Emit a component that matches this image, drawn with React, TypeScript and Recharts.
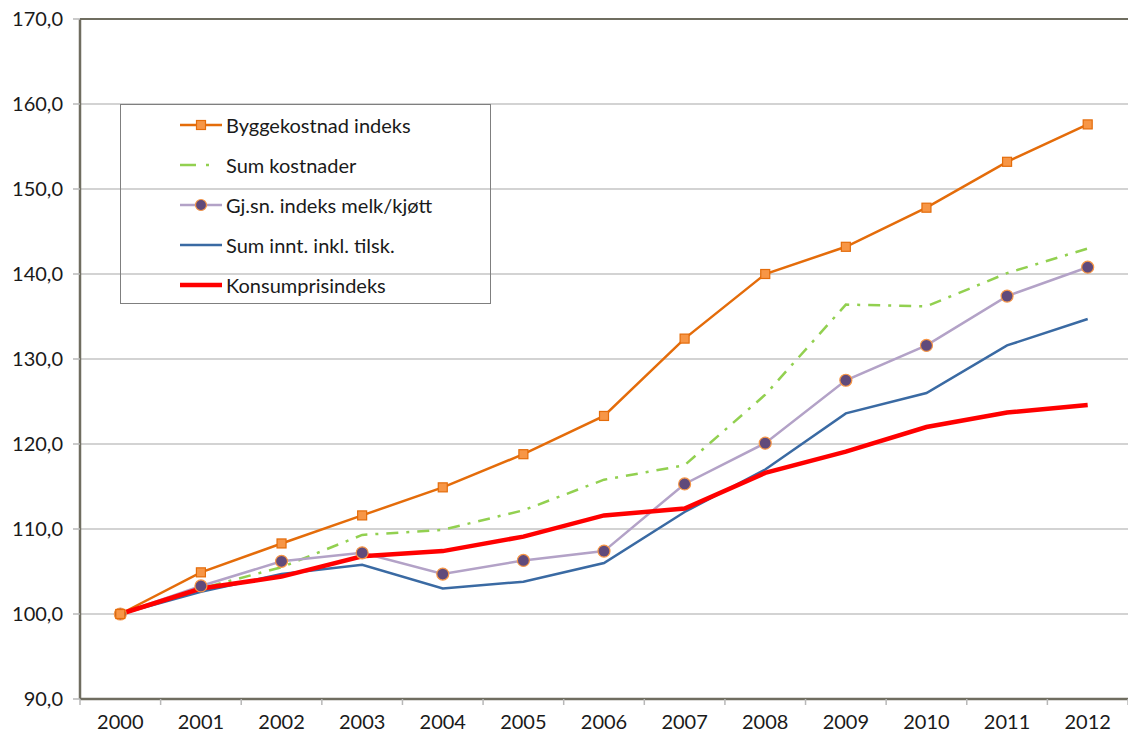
import React from 'react';
import { LineChart, Line, XAxis, YAxis, CartesianGrid, Legend, ReferenceLine } from 'recharts';

const years = ['2000', '2001', '2002', '2003', '2004', '2005', '2006', '2007', '2008', '2009', '2010', '2011', '2012'];
const byggekostnad = [100.0, 104.9, 108.3, 111.6, 114.9, 118.8, 123.3, 132.4, 140.0, 143.2, 147.8, 153.2, 157.6];
const sumKostnader = [100.0, 103.0, 105.5, 109.3, 109.9, 112.2, 115.8, 117.5, 125.8, 136.4, 136.2, 140.1, 143.0];
const gjsnIndeks = [100.0, 103.3, 106.2, 107.2, 104.7, 106.3, 107.4, 115.3, 120.1, 127.5, 131.6, 137.4, 140.8];
const sumInntekter = [100.0, 102.6, 104.7, 105.8, 103.0, 103.8, 106.0, 112.0, 117.0, 123.6, 126.0, 131.6, 134.7];
const konsumpris = [100.0, 103.0, 104.4, 106.8, 107.4, 109.1, 111.6, 112.4, 116.6, 119.1, 122.0, 123.7, 124.6];
const yTicks = [90, 100, 110, 120, 130, 140, 150, 160, 170];

const data = years.map((year, i) => ({
    idx: i,
    year,
    bygg: byggekostnad[i],
    kost: sumKostnader[i],
    gjsn: gjsnIndeks[i],
    innt: sumInntekter[i],
    kpi: konsumpris[i],
}));

// year labels sit on the categories, tick marks sit between them (Excel style)
const xTicks: number[] = [];
years.forEach((_, i) => xTicks.push(i - 0.5, i));
xTicks.push(years.length - 0.5);

const FONT = 'Lato, "Open Sans", sans-serif';
const TEXT = '#1a1a1a';
const AXIS = '#6f6d60';
const ORANGE = '#e46c0a';
const ORANGE_LIGHT = '#f79646';
const GREEN = '#92d050';
const PURPLE = '#b3a2c7';
const PURPLE_DARK = '#604a7b';
const BLUE = '#3a6aa3';
const RED = '#ff0000';

const SquareDot = (props: any) => {
    const { cx, cy, index } = props;
    return <rect key={`sq-${index}`} x={cx - 4.5} y={cy - 4.5} width={9} height={9} fill={ORANGE_LIGHT} stroke={ORANGE} strokeWidth={1.2} />;
};

const XTick = (props: any) => {
    const { x, y, payload } = props;
    const v = payload.value as number;
    if (Number.isInteger(v)) {
        return (
            <text x={x} y={y + 16} dy="0.71em" textAnchor="middle" fill={TEXT} fontSize={20} fontFamily={FONT}>
                {years[v]}
            </text>
        );
    }
    return <line x1={x} x2={x} y1={y} y2={y + 6} stroke="#b8b8b8" strokeWidth={1.5} />;
};

const legendItems = [
    { name: 'Byggekostnad indeks', kind: 'square' },
    { name: 'Sum kostnader', kind: 'dashdot' },
    { name: 'Gj.sn. indeks melk/kjøtt', kind: 'circle' },
    { name: 'Sum innt. inkl. tilsk.', kind: 'blue' },
    { name: 'Konsumprisindeks', kind: 'red' },
];

const LegendIcon = ({ kind }: { kind: string }) => (
    <svg width={42} height={14} style={{ display: 'block' }}>
        {kind === 'square' && (
            <>
                <line x1={0} y1={7} x2={42} y2={7} stroke={ORANGE} strokeWidth={2.5} />
                <rect x={16.5} y={2.5} width={9} height={9} fill={ORANGE_LIGHT} stroke={ORANGE} strokeWidth={1.2} />
            </>
        )}
        {kind === 'dashdot' && <line x1={0} y1={7} x2={42} y2={7} stroke={GREEN} strokeWidth={2.5} strokeDasharray="16 10 3 20" />}
        {kind === 'circle' && (
            <>
                <line x1={0} y1={7} x2={42} y2={7} stroke={PURPLE} strokeWidth={2.5} />
                <circle cx={21} cy={7} r={5.5} fill={PURPLE_DARK} stroke={ORANGE_LIGHT} strokeWidth={1.2} />
            </>
        )}
        {kind === 'blue' && <line x1={0} y1={7} x2={42} y2={7} stroke={BLUE} strokeWidth={2.5} />}
        {kind === 'red' && <line x1={0} y1={7} x2={42} y2={7} stroke={RED} strokeWidth={4.5} />}
    </svg>
);

const CustomLegend = () => (
    <div style={{ width: 371, height: 200, boxSizing: 'border-box', border: '1px solid #7f7f7f', paddingTop: 0, paddingLeft: 59 }}>
        {legendItems.map((item) => (
            <div key={item.name} style={{ display: 'flex', alignItems: 'center', height: 40 }}>
                <LegendIcon kind={item.kind} />
                <span style={{ marginLeft: 4, fontFamily: FONT, fontSize: 20, color: TEXT, whiteSpace: 'nowrap' }}>{item.name}</span>
            </div>
        ))}
    </div>
);

const App: React.FC = () => {
    return (
        <div style={{ position: 'absolute', left: 0, top: 0, width: 1128, height: 735, background: '#fff' }}>
            <LineChart width={1128} height={735} data={data} margin={{ top: 19, right: 0, left: 0, bottom: 0 }}>
                <CartesianGrid vertical={false} stroke="#c4c4c4" strokeWidth={1.5} />
                <XAxis
                    type="number"
                    dataKey="idx"
                    domain={[-0.5, years.length - 0.5]}
                    ticks={xTicks}
                    interval={0}
                    tick={<XTick />}
                    tickLine={false}
                    tickSize={0}
                    tickMargin={0}
                    axisLine={false}
                    height={36}
                />
                <YAxis
                    domain={[90, 170]}
                    ticks={yTicks}
                    width={80}
                    tickFormatter={(v: number) => v.toFixed(1).replace('.', ',')}
                    tick={{ fill: TEXT, fontSize: 20, fontFamily: FONT }}
                    tickSize={7}
                    tickMargin={10}
                    tickLine={{ stroke: '#b8b8b8', strokeWidth: 1.5 }}
                    axisLine={{ stroke: AXIS, strokeWidth: 2.5 }}
                />
                <ReferenceLine y={170} stroke={AXIS} strokeWidth={2} />
                <ReferenceLine y={90} stroke={AXIS} strokeWidth={2.5} />
                <Legend
                    layout="vertical"
                    align="center"
                    verticalAlign="middle"
                    wrapperStyle={{ left: 120, top: 104, width: 371, height: 200 }}
                    content={() => <CustomLegend />}
                />
                <Line dataKey="innt" stroke={BLUE} strokeWidth={2.5} dot={false} isAnimationActive={false} />
                <Line dataKey="kost" stroke={GREEN} strokeWidth={2.5} strokeDasharray="12 8 3 8" dot={false} isAnimationActive={false} />
                <Line
                    dataKey="gjsn"
                    stroke={PURPLE}
                    strokeWidth={2.5}
                    dot={{ r: 6, fill: PURPLE_DARK, stroke: ORANGE_LIGHT, strokeWidth: 1.2 }}
                    isAnimationActive={false}
                />
                <Line dataKey="bygg" stroke={ORANGE} strokeWidth={2.5} dot={SquareDot} isAnimationActive={false} />
                <Line dataKey="kpi" stroke={RED} strokeWidth={4.5} dot={false} isAnimationActive={false} />
            </LineChart>
        </div>
    );
};

export default App;
